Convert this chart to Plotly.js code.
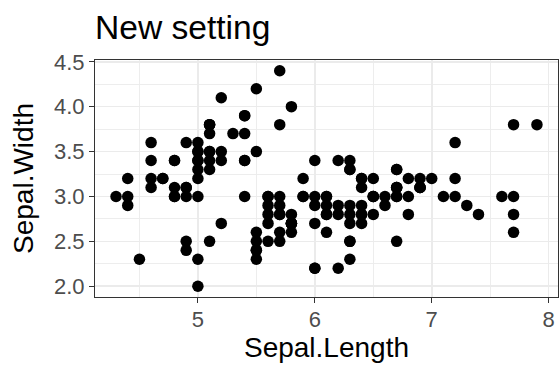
<!DOCTYPE html>
<html>
<head>
<meta charset="utf-8">
<script src="https://cdn.plot.ly/plotly-3.0.1.min.js"></script>
<style>
  html, body { margin: 0; padding: 0; background: #ffffff; }
  #chart { width: 560px; height: 369px; }
</style>
</head>
<body>
<div id="chart"></div>
<script>
// Edgar Anderson's iris measurements: sepal length and width (cm)
const sepalLength = [
  5.1, 4.9, 4.7, 4.6, 5.0, 5.4, 4.6, 5.0, 4.4, 4.9,
  5.4, 4.8, 4.8, 4.3, 5.8, 5.7, 5.4, 5.1, 5.7, 5.1,
  5.4, 5.1, 4.6, 5.1, 4.8, 5.0, 5.0, 5.2, 5.2, 4.7,
  4.8, 5.4, 5.2, 5.5, 4.9, 5.0, 5.5, 4.9, 4.4, 5.1,
  5.0, 4.5, 4.4, 5.0, 5.1, 4.8, 5.1, 4.6, 5.3, 5.0,
  7.0, 6.4, 6.9, 5.5, 6.5, 5.7, 6.3, 4.9, 6.6, 5.2,
  5.0, 5.9, 6.0, 6.1, 5.6, 6.7, 5.6, 5.8, 6.2, 5.6,
  5.9, 6.1, 6.3, 6.1, 6.4, 6.6, 6.8, 6.7, 6.0, 5.7,
  5.5, 5.5, 5.8, 6.0, 5.4, 6.0, 6.7, 6.3, 5.6, 5.5,
  5.5, 6.1, 5.8, 5.0, 5.6, 5.7, 5.7, 6.2, 5.1, 5.7,
  6.3, 5.8, 7.1, 6.3, 6.5, 7.6, 4.9, 7.3, 6.7, 7.2,
  6.5, 6.4, 6.8, 5.7, 5.8, 6.4, 6.5, 7.7, 7.7, 6.0,
  6.9, 5.6, 7.7, 6.3, 6.7, 7.2, 6.2, 6.1, 6.4, 7.2,
  7.4, 7.9, 6.4, 6.3, 6.1, 7.7, 6.3, 6.4, 6.0, 6.9,
  6.7, 6.9, 5.8, 6.8, 6.7, 6.7, 6.3, 6.5, 6.2, 5.9
];
const sepalWidth = [
  3.5, 3.0, 3.2, 3.1, 3.6, 3.9, 3.4, 3.4, 2.9, 3.1,
  3.7, 3.4, 3.0, 3.0, 4.0, 4.4, 3.9, 3.5, 3.8, 3.8,
  3.4, 3.7, 3.6, 3.3, 3.4, 3.0, 3.4, 3.5, 3.4, 3.2,
  3.1, 3.4, 4.1, 4.2, 3.1, 3.2, 3.5, 3.6, 3.0, 3.4,
  3.5, 2.3, 3.2, 3.5, 3.8, 3.0, 3.8, 3.2, 3.7, 3.3,
  3.2, 3.2, 3.1, 2.3, 2.8, 2.8, 3.3, 2.4, 2.9, 2.7,
  2.0, 3.0, 2.2, 2.9, 2.9, 3.1, 3.0, 2.7, 2.2, 2.5,
  3.2, 2.8, 2.5, 2.8, 2.9, 3.0, 2.8, 3.0, 2.9, 2.6,
  2.4, 2.4, 2.7, 2.7, 3.0, 3.4, 3.1, 2.3, 3.0, 2.5,
  2.6, 3.0, 2.6, 2.3, 2.7, 3.0, 2.9, 2.9, 2.5, 2.8,
  3.3, 2.7, 3.0, 2.9, 3.0, 3.0, 2.5, 2.9, 2.5, 3.6,
  3.2, 2.7, 3.0, 2.5, 2.8, 3.2, 3.0, 3.8, 2.6, 2.2,
  3.2, 2.8, 2.8, 2.7, 3.3, 3.2, 2.8, 3.0, 2.8, 3.0,
  2.8, 3.8, 2.8, 2.8, 2.6, 3.0, 3.4, 3.1, 3.0, 3.1,
  3.1, 3.1, 2.7, 3.2, 3.3, 3.0, 2.5, 3.0, 3.4, 3.0
];
const xTicks = [5, 6, 7, 8];
const yTicks = [2.0, 2.5, 3.0, 3.5, 4.0, 4.5];
const xMinor = [4.5, 5.5, 6.5, 7.5];
const yMinor = [2.25, 2.75, 3.25, 3.75, 4.25];

const font = 'Liberation Sans, Arial, sans-serif';
const gridColor = '#EBEBEB';
const frameColor = '#333333';

const trace = {
  type: 'scatter',
  mode: 'markers',
  x: sepalLength,
  y: sepalWidth,
  marker: { color: '#000000', size: 11.5, line: { width: 0 } },
  hoverinfo: 'x+y'
};

function axisBase(minorVals) {
  return {
    showgrid: true,
    gridcolor: gridColor,
    gridwidth: 1.6,
    zeroline: false,
    showline: true,
    mirror: true,
    linecolor: frameColor,
    linewidth: 1.1,
    ticks: 'outside',
    ticklen: 5,
    tickwidth: 1.1,
    tickcolor: frameColor,
    tickfont: { family: font, size: 22, color: '#4D4D4D' },
    minor: { tickvals: minorVals, showgrid: true, gridcolor: gridColor, gridwidth: 0.9, ticks: '' }
  };
}

const layout = {
  width: 560,
  height: 369,
  margin: { l: 95, r: 2, t: 60, b: 72 },
  paper_bgcolor: '#ffffff',
  plot_bgcolor: '#ffffff',
  showlegend: false,
  title: {
    text: 'New setting',
    font: { family: font, size: 33.6, color: '#000000' },
    xref: 'paper',
    x: 0,
    xanchor: 'left',
    yref: 'container',
    y: 1 - 27 / 369,
    yanchor: 'middle'
  },
  xaxis: Object.assign(axisBase(xMinor), {
    range: [4.12, 8.08],
    tickvals: xTicks,
    ticktext: xTicks.map(String),
    ticklabelstandoff: -3,
    title: { text: 'Sepal.Length', font: { family: font, size: 28, color: '#000000' }, standoff: 6 }
  }),
  yaxis: Object.assign(axisBase(yMinor), {
    range: [1.88, 4.52],
    tickvals: yTicks,
    ticktext: yTicks.map(v => v.toFixed(1)),
    title: { text: 'Sepal.Width', font: { family: font, size: 28, color: '#000000' }, standoff: 12 }
  })
};

Plotly.newPlot('chart', [trace], layout, { displayModeBar: false, staticPlot: true });
</script>
</body>
</html>
